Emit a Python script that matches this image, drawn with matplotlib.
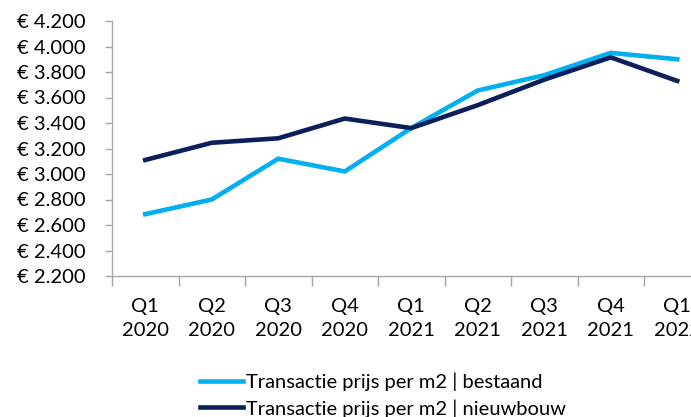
import matplotlib
matplotlib.use("Agg")
import matplotlib.pyplot as plt
from matplotlib.ticker import FuncFormatter

quarters = ["Q1\n2020", "Q2\n2020", "Q3\n2020", "Q4\n2020", "Q1\n2021",
            "Q2\n2021", "Q3\n2021", "Q4\n2021", "Q1\n2022"]
bestaand = [2685, 2800, 3120, 3020, 3360, 3655, 3775, 3950, 3900]
nieuwbouw = [3110, 3245, 3280, 3435, 3360, 3540, 3740, 3915, 3730]

light_blue = "#00b0f0"
dark_blue = "#0a1f5c"
grey = "#a6a6a6"

plt.rcParams["font.family"] = ["Lato", "DejaVu Sans"]
fs = 14.5

fig = plt.figure(figsize=(6.91, 4.17), dpi=100)
# axes runs past the right edge, like the cropped original
ax = fig.add_axes([112 / 691, 1 - 276 / 417, 598.5 / 691, 255 / 417])

x = range(len(quarters))
ax.plot(x, bestaand, color=light_blue, lw=3.3, solid_joinstyle="miter",
        label="Transactie prijs per m2 | bestaand")
ax.plot(x, nieuwbouw, color=dark_blue, lw=3.3, solid_joinstyle="miter",
        label="Transactie prijs per m2 | nieuwbouw")

ax.set_xlim(-0.5, len(quarters) - 0.5)
ax.set_ylim(2200, 4200)
ax.set_yticks(range(2200, 4201, 200))
ax.yaxis.set_major_formatter(FuncFormatter(
    lambda v, p: "€ {:,.0f}".format(v).replace(",", ".")))

# boundary ticks as major, labels on minor ticks at the centres
ax.set_xticks([i - 0.5 for i in range(len(quarters) + 1)])
ax.set_xticklabels([])
ax.set_xticks(list(x), minor=True)
ax.set_xticklabels(quarters, minor=True, linespacing=1.45)
ax.tick_params(axis="x", which="minor", length=0, pad=16, labelsize=fs)
ax.tick_params(axis="x", which="major", length=7, color=grey, width=1)
ax.tick_params(axis="y", length=5, color=grey, width=1, labelsize=fs, pad=14)

for s in ["top", "right"]:
    ax.spines[s].set_visible(False)
for s in ["left", "bottom"]:
    ax.spines[s].set_color(grey)
    ax.spines[s].set_linewidth(1)

fig.legend(loc="center left", bbox_to_anchor=(200 / 691, 1 - 395 / 417),
           frameon=False, fontsize=fs, handlelength=2.15, handletextpad=0.15,
           labelspacing=0.4, borderpad=0, borderaxespad=0)

fig.savefig("out.png", dpi=100)
